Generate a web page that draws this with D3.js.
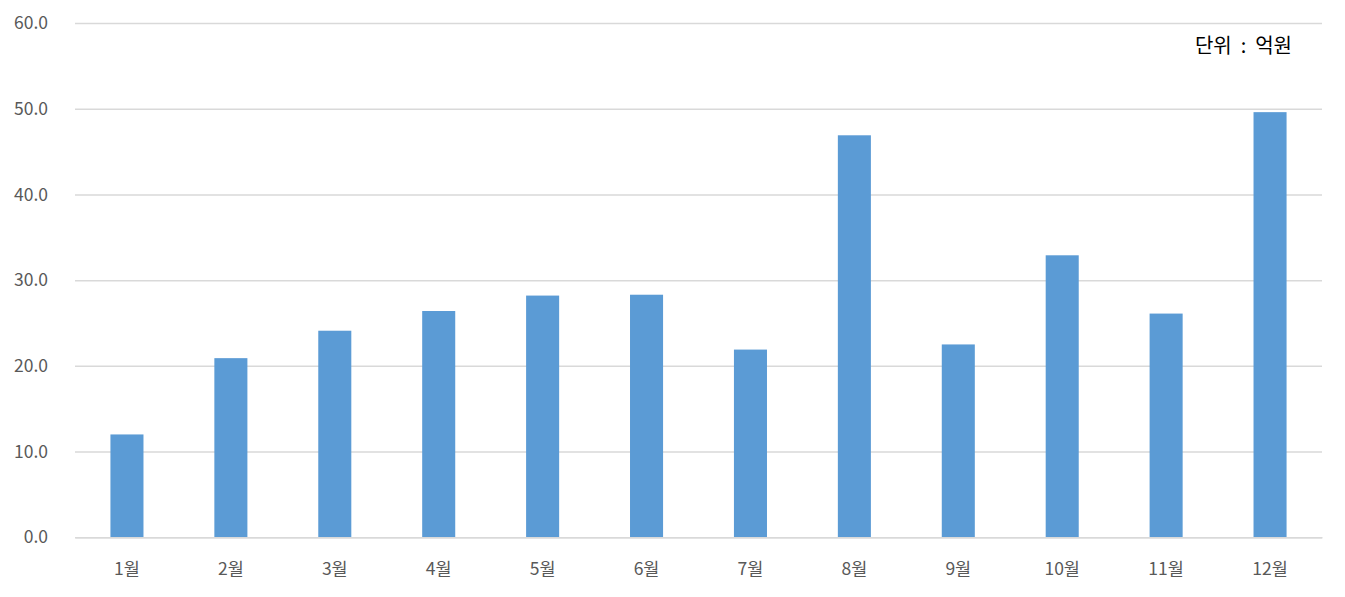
<!DOCTYPE html>
<html><head><meta charset="utf-8">
<script src="https://cdn.jsdelivr.net/npm/d3@7"></script>
<style>body{margin:0;background:#fff}svg{display:block}</style>
</head><body><svg id="c" width="1345" height="597"></svg>
<script>
const categories = ["1월","2월","3월","4월","5월","6월","7월","8월","9월","10월","11월","12월"];
const values = [12.0, 20.9, 24.1, 26.4, 28.2, 28.3, 21.9, 46.9, 22.5, 32.9, 26.1, 49.6];
const yTicks = [0, 10, 20, 30, 40, 50, 60];
const unitLabel = "단위 : 억원";

const svg = d3.select("#c");
const font = "'Noto Sans CJK KR', 'Noto Sans', sans-serif";
const x = d3.scaleBand().domain(categories).range([75, 1322]).paddingInner(0.682).paddingOuter(0.341);
const y = d3.scaleLinear().domain([0, 60]).range([537.3, 23]);

const yAxis = svg.append("g").attr("transform", "translate(75,0)")
  .call(d3.axisLeft(y).tickValues(yTicks).tickFormat(d3.format(".1f")).tickSize(-1247).tickPadding(27));
yAxis.select(".domain").remove();
yAxis.selectAll(".tick line").attr("stroke", "#d9d9d9").attr("stroke-width", 1.5);
yAxis.selectAll(".tick text").attr("fill", "#595959").style("font-family", font).style("font-size", "17.5px");

svg.append("g").selectAll("rect").data(values).join("rect")
  .attr("x", (d, i) => x(categories[i]))
  .attr("width", x.bandwidth())
  .attr("y", d => y(d))
  .attr("height", d => y(0) - y(d))
  .attr("fill", "#5b9bd5");

const xAxis = svg.append("g").attr("transform", "translate(0,537.3)")
  .call(d3.axisBottom(x).tickSize(0).tickPadding(25));
xAxis.select(".domain").attr("stroke", "#d9d9d9").attr("stroke-width", 1.5);
xAxis.selectAll(".tick text").attr("fill", "#595959").style("font-family", font).style("font-size", "17.5px");

svg.append("text").attr("x", 1292).attr("y", 53).attr("text-anchor", "end")
  .attr("xml:space", "preserve").style("white-space", "pre")
  .style("font-family", font).style("font-size", "20px").attr("fill", "#000").text(unitLabel.replace(" : ", "  :  "));
</script></body></html>
